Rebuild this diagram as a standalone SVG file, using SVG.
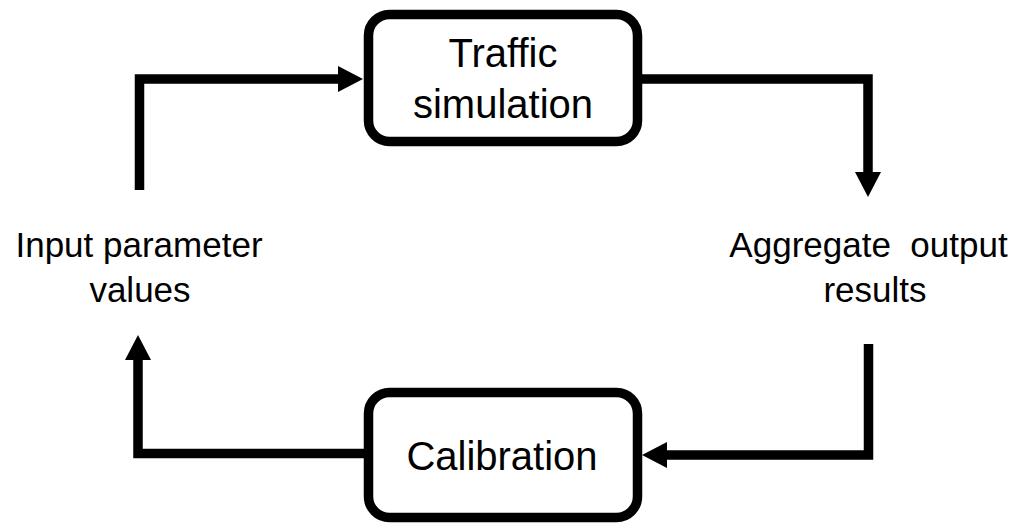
<svg xmlns="http://www.w3.org/2000/svg" width="1015" height="523" viewBox="0 0 1015 523">
  <style>
    .box { fill: #ffffff; stroke: #000000; stroke-width: 9.5; }
    .label { font-family: "Liberation Sans", Arial, sans-serif; fill: #000000; text-anchor: middle; }
    .box-label { font-size: 40px; }
    .side-label { font-size: 35px; }
    .flow { fill: none; stroke: #000000; stroke-width: 9.5; stroke-linejoin: miter; stroke-linecap: butt; marker-end: url(#arrow); }
  </style>
  <defs>
    <marker id="arrow" viewBox="0 0 25 26" refX="0" refY="13" markerWidth="25" markerHeight="26" markerUnits="userSpaceOnUse" orient="auto">
      <path d="M0,0 L25,13 L0,26 Z" fill="#000000"/>
    </marker>
  </defs>
  <rect width="1015" height="523" fill="#ffffff"/>

  <g id="connectors">
    <path class="flow" d="M139.5,190 V79 H338"/>
    <path class="flow" d="M642,79 H868 V172"/>
    <path class="flow" d="M868.5,344 V455 H667"/>
    <path class="flow" d="M364,453.5 H138 V360"/>
  </g>

  <g id="traffic-simulation">
    <rect class="box" x="368.5" y="14.5" width="269" height="127" rx="21"/>
    <text class="label box-label" x="503" y="67">Traffic</text>
    <text class="label box-label" x="503" y="118">simulation</text>
  </g>

  <g id="aggregate-output">
    <text class="label side-label" x="868.5" y="257" xml:space="preserve">Aggregate  output</text>
    <text class="label side-label" x="875" y="302">results</text>
  </g>

  <g id="calibration">
    <rect class="box" x="368.5" y="392.5" width="269" height="125" rx="21"/>
    <text class="label box-label" x="502" y="470">Calibration</text>
  </g>

  <g id="input-parameters">
    <text class="label side-label" x="139" y="257">Input parameter</text>
    <text class="label side-label" x="140" y="302">values</text>
  </g>
</svg>
